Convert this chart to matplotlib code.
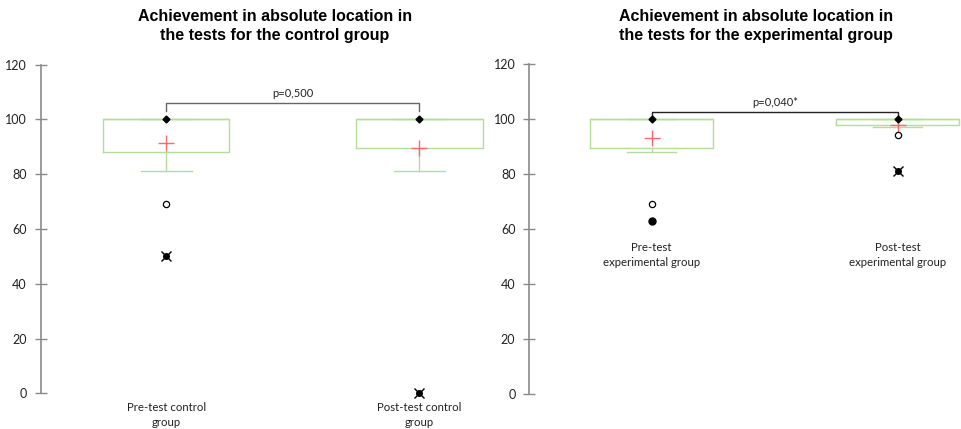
import matplotlib
matplotlib.use("Agg")
import matplotlib.pyplot as plt

# ---------------- datos ----------------
ctrl_labels = ["Pre-test control\ngroup", "Post-test control\ngroup"]
ctrl_q1 = [88, 89.5]
ctrl_q3 = [100, 100]
ctrl_med = [100, 100]
ctrl_whislo = [81, 81]
ctrl_whishi = [100, 100]
ctrl_mean = [91.5, 89.7]
ctrl_max = [100, 100]
ctrl_outliers = [[69], []]
ctrl_extremes = [[50], [0]]
ctrl_min_dots = [[], []]
ctrl_p = "p=0,500"

exp_labels = ["Pre-test\nexperimental group", "Post-test\nexperimental group"]
exp_q1 = [89.5, 98]
exp_q3 = [100, 100]
exp_med = [100, 100]
exp_whislo = [88, 97]
exp_whishi = [100, 100]
exp_mean = [93.2, 97.9]
exp_max = [100, 100]
exp_outliers = [[69], [94.2]]
exp_extremes = [[], [81]]
exp_min_dots = [[63], []]
exp_p = "p=0,040*"

titles = ["Achievement in absolute location in\nthe tests for the control group",
          "Achievement in absolute location in\nthe tests for the experimental group"]
yticks = [0, 20, 40, 60, 80, 100, 120]

GREEN = "#b4dd9c"
RED = "#ff6670"
AXIS = "#8a8a8a"

fig = plt.figure(figsize=(9.62, 4.29), dpi=100)
ax1 = fig.add_axes([0.0423, 0.0832, 0.4619, 0.766])
ax2 = fig.add_axes([0.5502, 0.0807, 0.4498, 0.7701])


def dibujar(ax, q1, q3, med, wlo, whi, mean, mx, outl, extr, mins, xlim):
    stats = []
    for i in range(len(q1)):
        stats.append(dict(med=med[i], q1=q1[i], q3=q3[i], whislo=wlo[i],
                          whishi=whi[i], fliers=[]))
    pos = [1, 2]
    ax.bxp(stats, positions=pos, widths=0.5, showfliers=False,
           boxprops=dict(color=GREEN, lw=1.0),
           whiskerprops=dict(color=GREEN, lw=1.0),
           capprops=dict(color=GREEN, lw=1.0),
           medianprops=dict(color=GREEN, lw=1.0),
           capwidths=0.2, manage_ticks=False)
    for i, p in enumerate(pos):
        ax.plot(p, mean[i], marker="+", ms=11, mew=1.0, color=RED, ls="none", zorder=4)
        ax.plot(p, mx[i], marker="D", ms=3.5, color="black", ls="none", zorder=5, clip_on=False)
        for v in outl[i]:
            ax.plot(p, v, marker="o", ms=4.5, mfc="white", mec="black", mew=0.9, ls="none", zorder=5)
        for v in mins[i]:
            ax.plot(p, v, marker="o", ms=5, color="black", ls="none", zorder=5)
        for v in extr[i]:
            ax.plot(p, v, marker="o", ms=4, color="black", ls="none", zorder=5, clip_on=False)
            ax.plot(p, v, marker="x", ms=7, mew=1.0, color="black", ls="none", zorder=5, clip_on=False)
    ax.set_xlim(*xlim)
    ax.set_ylim(0, 120)
    ax.set_yticks(yticks)
    ax.set_xticks([])
    for s in ["top", "right", "bottom"]:
        ax.spines[s].set_visible(False)
    ax.spines["left"].set_color(AXIS)
    ax.spines["left"].set_linewidth(1.2)
    ax.tick_params(axis="y", direction="inout", length=8, width=1.0, color=AXIS,
                   labelsize=9, labelcolor="#222222", pad=6)
    for lab in ax.get_yticklabels():
        lab.set_fontfamily("Lato")


dibujar(ax1, ctrl_q1, ctrl_q3, ctrl_med, ctrl_whislo, ctrl_whishi, ctrl_mean,
        ctrl_max, ctrl_outliers, ctrl_extremes, ctrl_min_dots, (0.504, 2.26))
dibujar(ax2, exp_q1, exp_q3, exp_med, exp_whislo, exp_whishi, exp_mean,
        exp_max, exp_outliers, exp_extremes, exp_min_dots, (0.5024, 2.261))

# corchetes de significancia
ax1.plot([1, 1, 2, 2], [103, 106, 106, 103], color="#666666", lw=1.0, zorder=3)
ax1.text(1.5, 107.5, ctrl_p, ha="center", va="bottom", fontsize=8, family="Lato", color="#222222")
ax2.plot([1, 1, 2, 2], [100, 102.5, 102.5, 100], color="#222222", lw=1.0, zorder=3)
ax2.text(1.5, 104, exp_p, ha="center", va="bottom", fontsize=8, family="Lato", color="#222222")

# etiquetas de categorias
for i, lab in enumerate(ctrl_labels):
    ax1.text(i + 1, -3.2, lab, ha="center", va="top", fontsize=8.2, family="Lato",
             color="#222222", linespacing=1.45, clip_on=False)
for i, lab in enumerate(exp_labels):
    ax2.text(i + 1, 55.3, lab, ha="center", va="top", fontsize=8.2, family="Lato",
             color="#222222", linespacing=1.45)

# titulos
fig.text(275 / 962, 1 - 26 / 429, titles[0], ha="center", va="center", fontsize=11.5,
         fontweight="bold", family="Liberation Sans", linespacing=1.3)
fig.text(756 / 962, 1 - 26 / 429, titles[1], ha="center", va="center", fontsize=11.5,
         fontweight="bold", family="Liberation Sans", linespacing=1.3)

fig.savefig("out.png", dpi=100)
